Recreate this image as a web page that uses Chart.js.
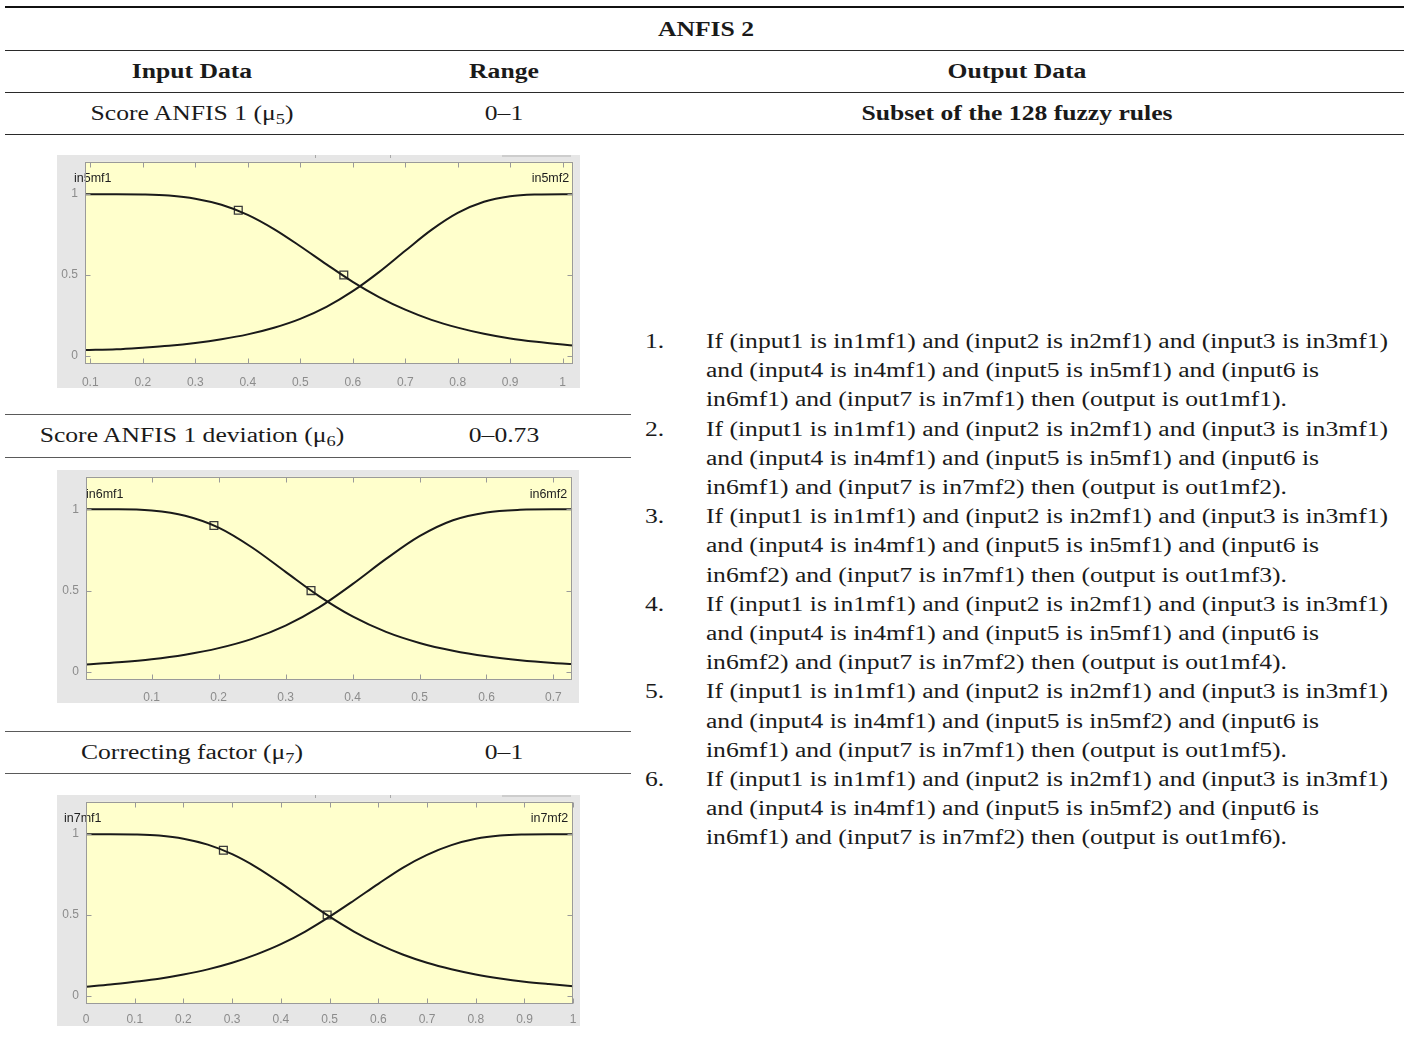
<!DOCTYPE html>
<html>
<head>
<meta charset="utf-8">
<title>ANFIS 2</title>
<script src="https://cdn.jsdelivr.net/npm/chart.js@4.4.1/dist/chart.umd.min.js"></script>
<style>
  html, body { margin: 0; padding: 0; background: #fff; }
  #page { position: relative; width: 1408px; height: 1048px; overflow: hidden;
          font-family: "Liberation Serif", "Times New Roman", serif; color: #1a1a1a; }
  .rule { position: absolute; height: 1px; background: #2a2a2a; }
  .rule.thick { height: 2px; background: #111; }
  .rule.soft { background: #5a5a5a; }
  .t { position: absolute; white-space: nowrap; font-size: 20px; line-height: 26px; }
  .t.b { font-weight: bold; }
  .t sub { font-size: 0.72em; vertical-align: -0.3em; line-height: 0; }
  .plot { position: absolute; }
  .plot canvas { display: block; background: #e6e6e6; }
</style>
</head>
<body>
<div id="page"></div>
<script>
// ---------- membership-function data (input 5: Score ANFIS 1) ----------
const in5X   = [0.09, 0.15, 0.2, 0.25, 0.3, 0.35, 0.4, 0.45, 0.5, 0.55, 0.6, 0.65, 0.7, 0.75, 0.8, 0.85, 0.9, 0.95, 1.0, 1.02];
const in5Mf1 = [1, 1, 0.998, 0.991, 0.972, 0.934, 0.872, 0.784, 0.678, 0.566, 0.458, 0.364, 0.286, 0.223, 0.175, 0.137, 0.108, 0.087, 0.07, 0.064];
const in5Mf2 = [0.036, 0.041, 0.051, 0.063, 0.08, 0.103, 0.133, 0.174, 0.229, 0.303, 0.4, 0.518, 0.65, 0.779, 0.884, 0.953, 0.987, 0.998, 1, 1];
const in5MarkX = [0.382, 0.583];
const in5MarkY = [0.9, 0.5];
const in5Range = [0.09, 1.02];
const in5Ticks = [0.1, 0.2, 0.3, 0.4, 0.5, 0.6, 0.7, 0.8, 0.9, 1];
const in5TickLabels = ['0.1', '0.2', '0.3', '0.4', '0.5', '0.6', '0.7', '0.8', '0.9', '1'];

// ---------- input 6: Score ANFIS 1 deviation ----------
const in6X   = [0.002, 0.05, 0.1, 0.15, 0.2, 0.25, 0.3, 0.35, 0.4, 0.45, 0.5, 0.55, 0.6, 0.65, 0.7, 0.728];
const in6Mf1 = [1, 1, 0.992, 0.96, 0.887, 0.765, 0.615, 0.466, 0.341, 0.246, 0.178, 0.13, 0.096, 0.072, 0.055, 0.048];
const in6Mf2 = [0.045, 0.059, 0.078, 0.106, 0.146, 0.203, 0.285, 0.397, 0.54, 0.695, 0.835, 0.933, 0.981, 0.997, 1, 1];
const in6MarkX = [0.193, 0.338];
const in6MarkY = [0.9, 0.5];
const in6Range = [0.002, 0.728];
const in6Ticks = [0.1, 0.2, 0.3, 0.4, 0.5, 0.6, 0.7];
const in6TickLabels = ['0.1', '0.2', '0.3', '0.4', '0.5', '0.6', '0.7'];

// ---------- input 7: Correcting factor ----------
const in7X   = [0, 0.05, 0.1, 0.15, 0.2, 0.25, 0.3, 0.35, 0.4, 0.45, 0.5, 0.55, 0.6, 0.65, 0.7, 0.75, 0.8, 0.85, 0.9, 0.95, 1];
const in7Mf1 = [1, 1, 0.998, 0.991, 0.972, 0.935, 0.876, 0.795, 0.697, 0.592, 0.49, 0.398, 0.32, 0.256, 0.205, 0.165, 0.133, 0.108, 0.088, 0.073, 0.06];
const in7Mf2 = [0.057, 0.07, 0.087, 0.106, 0.132, 0.164, 0.205, 0.257, 0.32, 0.398, 0.49, 0.59, 0.693, 0.792, 0.872, 0.932, 0.971, 0.991, 0.998, 1, 1];
const in7MarkX = [0.282, 0.495];
const in7MarkY = [0.9, 0.5];
const in7Range = [0, 1];
const in7Ticks = [0, 0.1, 0.2, 0.3, 0.4, 0.5, 0.6, 0.7, 0.8, 0.9, 1];
const in7TickLabels = ['0', '0.1', '0.2', '0.3', '0.4', '0.5', '0.6', '0.7', '0.8', '0.9', '1'];

// shared membership axis
const degreeRange = [-0.05, 1.2];
const degreeTicks = [0, 0.5, 1];
const degreeTickLabels = ['0', '0.5', '1'];

// ---------- table text ----------
const tableTitle = 'ANFIS 2';
const headInput = 'Input Data', headRange = 'Range', headOutput = 'Output Data';
const inputNames = ['Score ANFIS 1', 'Score ANFIS 1 deviation', 'Correcting factor'];
const inputSubs = ['5', '6', '7'];
const inputRanges = ['0–1', '0–0.73', '0–1'];
const outputTitle = 'Subset of the 128 fuzzy rules';
const ruleIn5 = [1, 1, 1, 1, 2, 2];
const ruleIn6 = [1, 1, 2, 2, 1, 1];
const ruleIn7 = [1, 2, 1, 2, 1, 2];
const ruleOut = [1, 2, 3, 4, 5, 6];

// ---------- page layout ----------
const page = document.getElementById('page');

function addRule(x1, x2, y, cls) {
  const d = document.createElement('div');
  d.className = 'rule' + (cls ? ' ' + cls : '');
  d.style.left = x1 + 'px'; d.style.width = (x2 - x1) + 'px'; d.style.top = y + 'px';
  page.appendChild(d);
}
const textEls = [];
function addText(html, x, y, align, bold) {
  const d = document.createElement('div');
  d.className = 't' + (bold ? ' b' : '');
  d.innerHTML = html;
  d.style.left = x + 'px'; d.style.top = y + 'px';
  d.dataset.align = align;
  page.appendChild(d);
  textEls.push(d);
  return d;
}

addRule(5, 1404, 6, 'thick');
addRule(5, 1404, 50);
addRule(5, 1404, 92);
addRule(5, 1404, 134);
addRule(5, 631, 414, 'soft');
addRule(5, 631, 457, 'soft');
addRule(5, 631, 731, 'soft');
addRule(5, 631, 773, 'soft');

addText(tableTitle, 706, 29, 'center', true);
addText(headInput, 192, 71, 'center', true);
addText(headRange, 504, 71, 'center', true);
addText(headOutput, 1017, 71, 'center', true);
addText(outputTitle, 1017, 113, 'center', true);

const rowY = [113, 435, 752];
inputNames.forEach((n, i) => {
  addText(n + ' (μ<sub>' + inputSubs[i] + '</sub>)', 192, rowY[i], 'center', false);
  addText(inputRanges[i], 504, rowY[i], 'center', false);
});

// numbered fuzzy rules, three printed lines each
const ruleLineGap = 29.2;
ruleOut.forEach((o, i) => {
  const lines = [
    'If (input1 is in1mf1) and (input2 is in2mf1) and (input3 is in3mf1)',
    'and (input4 is in4mf1) and (input5 is in5mf' + ruleIn5[i] + ') and (input6 is',
    'in6mf' + ruleIn6[i] + ') and (input7 is in7mf' + ruleIn7[i] + ') then (output is out1mf' + o + ').'
  ];
  const y0 = 341 + i * 3 * ruleLineGap;
  addText((i + 1) + '.', 645, y0, 'left', false);
  lines.forEach((s, k) => addText(s, 706, y0 + k * ruleLineGap, 'left', false));
});

// Liberation Serif runs narrower than the book face; widen text uniformly
function fitText() {
  const probe = textEls.find(e => e.textContent.startsWith('If (input1'));
  const kReg = 682 / probe.getBoundingClientRect().width;
  const bprobe = textEls.find(e => e.textContent === outputTitle);
  const kBold = 311 / bprobe.getBoundingClientRect().width;
  textEls.forEach(e => {
    const k = e.classList.contains('b') ? kBold : kReg;
    if (e.dataset.align === 'center') {
      e.style.transformOrigin = '0 0';
      const w = e.getBoundingClientRect().width * k;
      e.style.transform = 'translate(' + (-w / 2) + 'px, -50%) scaleX(' + k + ')';
    } else {
      e.style.transformOrigin = '0 50%';
      e.style.transform = 'translateY(-50%) scaleX(' + k + ')';
    }
  });
}
fitText();

// ---------- MATLAB-style membership plots ----------
const framePlugin = {
  id: 'mfFrame',
  beforeDatasetsDraw(chart, args, opts) {
    const { ctx, chartArea: a } = chart;
    ctx.save();
    ctx.fillStyle = opts.bg;
    ctx.fillRect(a.left, a.top, a.right - a.left, a.bottom - a.top);
    ctx.restore();
  },
  afterDatasetsDraw(chart, args, opts) {
    const { ctx, chartArea: a } = chart;
    const xs = chart.scales.x, ys = chart.scales.y;
    ctx.save();
    // membership function names
    ctx.fillStyle = '#1e1e1e';
    ctx.font = '12.5px "Liberation Sans", Arial, sans-serif';
    ctx.textBaseline = 'middle';
    ctx.textAlign = 'left';
    ctx.fillText(opts.names[0], a.left + opts.leftDx, a.top + opts.nameDy);
    ctx.textAlign = 'right';
    ctx.fillText(opts.names[1], a.right + opts.rightDx, a.top + opts.nameDy);
    // axes box and inward tick marks
    ctx.strokeStyle = '#9a9a9a';
    ctx.lineWidth = 1;
    const L = Math.round(a.left) + 0.5, R = Math.round(a.right) - 0.5;
    const T = Math.round(a.top) + 0.5, B = Math.round(a.bottom) - 0.5;
    ctx.strokeRect(L, T, R - L, B - T);
    ctx.beginPath();
    xs.ticks.forEach(t => {
      const px = Math.round(xs.getPixelForValue(t.value)) + 0.5;
      ctx.moveTo(px, T); ctx.lineTo(px, T + 5);
      ctx.moveTo(px, B); ctx.lineTo(px, B - 5);
    });
    ys.ticks.forEach(t => {
      const py = Math.round(ys.getPixelForValue(t.value)) + 0.5;
      ctx.moveTo(L, py); ctx.lineTo(L + 5, py);
      ctx.moveTo(R, py); ctx.lineTo(R - 5, py);
    });
    ctx.stroke();
    // remains of the editor window above the axes
    if (opts.chrome) {
      ctx.strokeStyle = '#cdcdcd';
      ctx.lineWidth = 2;
      ctx.beginPath();
      ctx.moveTo(opts.chrome.barX[0], 1); ctx.lineTo(opts.chrome.barX[1], 1);
      ctx.stroke();
      ctx.strokeStyle = '#a8a8a8';
      ctx.lineWidth = 1;
      ctx.beginPath();
      opts.chrome.marks.forEach(m => { ctx.moveTo(m + 0.5, 0); ctx.lineTo(m + 0.5, 3); });
      ctx.stroke();
    }
    ctx.restore();
  }
};

function pts(xs, ys) { return xs.map((x, i) => ({ x: x, y: ys[i] })); }

function mfChart(box, area, xData, mf1, mf2, markX, markY, xRange, xTicks, xLabels, names, nameOpts) {
  const wrap = document.createElement('div');
  wrap.className = 'plot';
  wrap.style.left = box.x + 'px'; wrap.style.top = box.y + 'px';
  const cv = document.createElement('canvas');
  cv.width = box.w; cv.height = box.h;
  cv.style.width = box.w + 'px'; cv.style.height = box.h + 'px';
  wrap.appendChild(cv);
  page.appendChild(wrap);

  const curve = {
    showLine: true, borderColor: '#1a1a1a', borderWidth: 2, pointRadius: 0,
    cubicInterpolationMode: 'monotone', fill: false
  };
  const tickFont = { family: '"Liberation Sans", Arial, sans-serif', size: 12 };
  return new Chart(cv, {
    type: 'scatter',
    data: {
      datasets: [
        Object.assign({ label: names[0], data: pts(xData, mf1) }, curve),
        Object.assign({ label: names[1], data: pts(xData, mf2) }, curve),
        { label: 'params', data: pts(markX, markY), showLine: false, pointStyle: 'rect',
          pointRadius: 5.5, pointBorderWidth: 1.3, pointBorderColor: '#3a3a3a',
          pointBackgroundColor: 'rgba(0,0,0,0)' }
      ]
    },
    options: {
      responsive: false, animation: false, devicePixelRatio: 1,
      events: [],
      layout: { padding: { left: 0, top: area.top, right: box.w - area.right, bottom: 0 } },
      plugins: {
        legend: { display: false }, tooltip: { enabled: false },
        mfFrame: Object.assign({ bg: '#ffffcc', names: names }, nameOpts)
      },
      scales: {
        x: {
          type: 'linear', min: xRange[0], max: xRange[1],
          grid: { display: false, drawTicks: false }, border: { display: false },
          afterFit(s) { s.height = box.h - area.bottom; s.paddingLeft = 0; s.paddingRight = 0; },
          afterBuildTicks(s) { s.ticks = xTicks.map(v => ({ value: v })); },
          ticks: { color: '#8c8c8c', font: tickFont, padding: area.labelGap, maxRotation: 0, autoSkip: false,
                   callback: (v, i) => xLabels[i] }
        },
        y: {
          type: 'linear', min: degreeRange[0], max: degreeRange[1],
          grid: { display: false, drawTicks: false }, border: { display: false },
          afterFit(s) { s.width = area.left; s.paddingTop = 0; s.paddingBottom = 0; },
          afterBuildTicks(s) { s.ticks = degreeTicks.map(v => ({ value: v })); },
          ticks: { color: '#8c8c8c', font: tickFont, padding: 7, autoSkip: false,
                   callback: (v, i) => degreeTickLabels[i] }
        }
      }
    },
    plugins: [framePlugin]
  });
}

mfChart({ x: 57, y: 155, w: 523, h: 233 }, { left: 28, top: 5, right: 518, bottom: 209, labelGap: 11 },
  in5X, in5Mf1, in5Mf2, in5MarkX, in5MarkY, in5Range, in5Ticks, in5TickLabels,
  ['in5mf1', 'in5mf2'],
  { leftDx: -11, rightDx: -4, nameDy: 17, chrome: { barX: [445, 514], marks: [258, 333] } });

mfChart({ x: 57, y: 470, w: 522, h: 233 }, { left: 29, top: 4, right: 517, bottom: 210, labelGap: 10 },
  in6X, in6Mf1, in6Mf2, in6MarkX, in6MarkY, in6Range, in6Ticks, in6TickLabels,
  ['in6mf1', 'in6mf2'],
  { leftDx: 0, rightDx: -5, nameDy: 18, chrome: null });

mfChart({ x: 57, y: 795, w: 523, h: 231 }, { left: 29, top: 5, right: 518, bottom: 209, labelGap: 8 },
  in7X, in7Mf1, in7Mf2, in7MarkX, in7MarkY, in7Range, in7Ticks, in7TickLabels,
  ['in7mf1', 'in7mf2'],
  { leftDx: -22, rightDx: -5, nameDy: 17, chrome: { barX: [445, 514], marks: [258, 333] } });
</script>
</body>
</html>
